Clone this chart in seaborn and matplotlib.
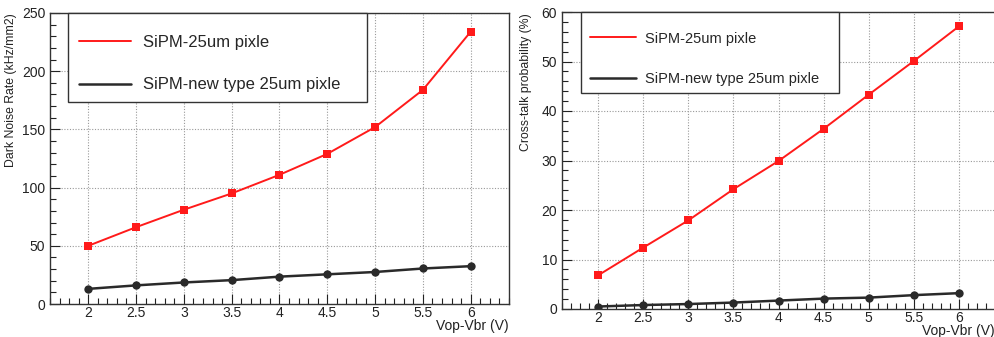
import matplotlib
matplotlib.use("Agg")
import matplotlib.pyplot as plt
from matplotlib.patches import Rectangle
from matplotlib.ticker import MultipleLocator
import seaborn as sns

# data
vop_vbr = [2, 2.5, 3, 3.5, 4, 4.5, 5, 5.5, 6]
dark_noise_std = [50, 66, 81, 95, 111, 129, 152, 184, 234]
dark_noise_new = [13, 16, 18.5, 20.5, 23.5, 25.5, 27.5, 30.5, 32.5]
crosstalk_std = [6.8, 12.4, 17.9, 24.2, 29.9, 36.4, 43.3, 50.1, 57.1]
crosstalk_new = [0.5, 0.8, 1.0, 1.3, 1.7, 2.1, 2.3, 2.8, 3.2]
label_std = "SiPM-25um pixle"
label_new = "SiPM-new type 25um pixle"

W, H = 995, 337
sns.set_theme(style="ticks")
plt.rcParams['font.family'] = ['Liberation Sans', 'DejaVu Sans']

fig = plt.figure(figsize=(W/100, H/100), dpi=100)
ax1 = fig.add_axes([50/W, 1-304/H, 459/W, 291/H])
ax2 = fig.add_axes([562/W, 1-309/H, 433/W, 297/H])


def style_axis(ax, ymax, ymajor, yminor, ylabel):
    ax.set_xlim(1.6, 6.4)
    ax.set_ylim(0, ymax)
    ax.xaxis.set_minor_locator(MultipleLocator(0.1))
    ax.yaxis.set_major_locator(MultipleLocator(ymajor))
    ax.yaxis.set_minor_locator(MultipleLocator(yminor))
    ax.set_xticks(vop_vbr)
    ax.set_xticklabels([f"{v:g}" for v in vop_vbr])
    ax.tick_params(which='both', direction='in', top=False, right=False,
                   labelsize=10, colors='#222222')
    ax.tick_params(axis='x', pad=1.5)
    ax.tick_params(which='major', length=7, width=0.8)
    ax.tick_params(which='minor', length=4, width=0.8)
    ax.grid(True, which='major', linestyle=(0, (1, 1.5)), color='#999999', linewidth=0.8)
    for s in ax.spines.values():
        s.set_color('#333333')
        s.set_linewidth(1.0)
    ax.set_ylabel(ylabel, loc='top', fontsize=8.8, color='#222222')
    ax.set_xlabel("Vop-Vbr (V)", loc='right', fontsize=10, color='#222222')


def legend_box(ax, box, anchor, fs, hl, tp, ls):
    # ROOT-style legend: plain framed box with the entries inside
    x0, y0, x1, y1 = box
    ax.add_patch(Rectangle((x0/W, 1-y1/H), (x1-x0)/W, (y1-y0)/H,
                           transform=fig.transFigure, facecolor='white',
                           edgecolor='#333333', linewidth=1.0, zorder=4, clip_on=False))
    leg = ax.legend(loc='upper left', bbox_to_anchor=(anchor[0]/W, 1-anchor[1]/H),
                    bbox_transform=fig.transFigure, borderaxespad=0, borderpad=0,
                    frameon=False, fontsize=fs, handlelength=hl, handletextpad=tp,
                    labelspacing=ls)
    leg.set_zorder(5)
    for h in leg.legend_handles:
        h.set_marker('')


# left: dark noise rate
sns.lineplot(x=vop_vbr, y=dark_noise_std, ax=ax1, color='#ff1a1a', linewidth=1.4,
             marker='s', markersize=6, markeredgewidth=0, label=label_std)
sns.lineplot(x=vop_vbr, y=dark_noise_new, ax=ax1, color='#2a2a2a', linewidth=1.8,
             marker='o', markersize=6, markeredgewidth=0, label=label_new)
style_axis(ax1, 250, 50, 10, "Dark Noise Rate (kHz/mm2)")
ax1.yaxis.set_label_coords(-0.072, 1.0)
ax1.xaxis.set_label_coords(1.0, -0.05)
legend_box(ax1, (68, 13, 367, 102), (79, 34.5), 12, 3.1, 0.72, 1.68)

# right: cross-talk
sns.lineplot(x=vop_vbr, y=crosstalk_std, ax=ax2, color='#ff1a1a', linewidth=1.4,
             marker='s', markersize=6, markeredgewidth=0, label=label_std)
sns.lineplot(x=vop_vbr, y=crosstalk_new, ax=ax2, color='#2a2a2a', linewidth=1.8,
             marker='o', markersize=6, markeredgewidth=0, label=label_new)
style_axis(ax2, 60, 10, 2, "Cross-talk probability (%)")
ax2.yaxis.set_label_coords(-0.069, 0.995)
ax2.xaxis.set_label_coords(1.0, -0.05)
legend_box(ax2, (581, 12, 839, 93), (590, 31.5), 10.5, 3.15, 0.62, 1.81)

fig.savefig("out.png", dpi=100)
